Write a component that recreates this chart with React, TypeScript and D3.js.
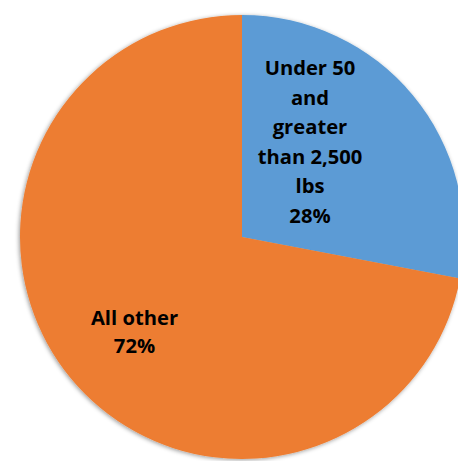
import React from "react";
import * as d3 from "d3";

const categories = ["Under 50 and greater than 2,500 lbs", "All other"];
const values = [28, 72];
const colors = ["#5B9BD5", "#ED7D31"];
const labelLines = [
  ["Under 50", "and", "greater", "than 2,500", "lbs", "28%"],
  ["All other", "72%"],
];

export default function App() {
  const W = 458, H = 461;
  const cx = 242, cy = 237, r = 222;
  const pie = d3.pie<number>().sort(null).value((d) => d)(values);
  const arc = d3.arc<d3.PieArcDatum<number>>().innerRadius(0).outerRadius(r);
  const labelPos = [
    { x: 310, y: 75, step: 29.5 },
    { x: 134.5, y: 325, step: 28 },
  ];
  return (
    <svg width={W} height={H} style={{ position: "absolute", left: 0, top: 0, background: "#fff" }}>
      <defs>
        <filter id="sh" x="-10%" y="-10%" width="120%" height="120%">
          <feDropShadow dx={-1} dy={1} stdDeviation={2.2} floodColor="#000" floodOpacity={0.4} />
        </filter>
      </defs>
      <g transform={`translate(${cx},${cy})`}>
        <g filter="url(#sh)">
          {pie.map((p, i) => (
            <path key={categories[i]} d={arc(p) || ""} fill={colors[i]} />
          ))}
        </g>
      </g>
      {labelLines.map((lines, i) => (
        <text
          key={i}
          textAnchor="middle"
          fontFamily="'Open Sans', 'Liberation Sans', Arial, sans-serif"
          fontWeight="bold"
          fontSize={20.2}
          fill="#000"
        >
          {lines.map((t, j) => (
            <tspan key={j} x={labelPos[i].x} y={labelPos[i].y + j * labelPos[i].step}>
              {t}
            </tspan>
          ))}
        </text>
      ))}
    </svg>
  );
}
